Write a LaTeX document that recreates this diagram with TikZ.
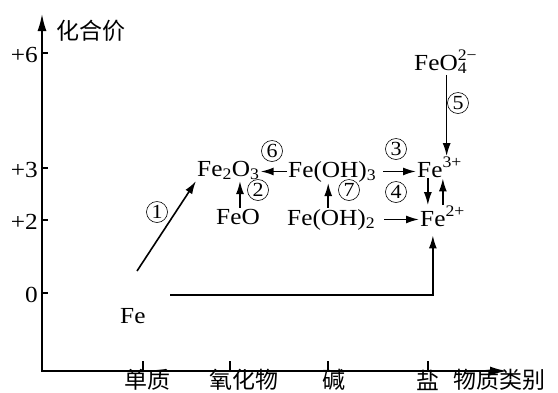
\documentclass[tikz,border=0pt]{standalone}
\usepackage{fontspec}
\setmainfont{Liberation Serif}[FakeStretch=1.1]
\newfontfamily\cjk{Noto Sans CJK SC}
\usetikzlibrary{arrows.meta}

\begin{document}
\begin{tikzpicture}[x=1pt,y=-1pt,>={Latex[length=13pt,width=8pt]},
  every node/.style={font=\fontsize{23}{26}\selectfont,inner sep=1pt},
  axis/.style={line width=1.6pt},
  link/.style={->,line width=1.6pt},
  circnum/.style={circle,draw,line width=0.6pt,minimum size=21pt,inner sep=0pt,font=\fontsize{20}{20}\selectfont},
  species/.style={anchor=base west,inner sep=1pt},
  cjklabel/.style={font=\fontsize{23}{24}\selectfont\cjk}]
\useasboundingbox (0,0) rectangle (558,392);

% Axes
\draw[axis,-{Latex[length=17pt,width=9pt]}] (42,371) -- (42,14);
\draw[axis,-{Latex[length=17pt,width=9pt]}] (41,371) -- (507,371);
\node[cjklabel,anchor=west] (yname) at (55,31) {化合价};
\node[cjklabel,anchor=west] (xname) at (452,380) {物质类别};

% Valence ticks
\foreach \y/\t [count=\i] in {53/+6,168/+3,220/+2,293/0}{
  \draw[axis] (42,\y) -- (48,\y);
  \node[anchor=east] (yl\i) at (39,\y+2) {\t};
}

% Class ticks
\foreach \x/\c/\t [count=\i] in {143/147/单质,230/244/氧化物,328/334/碱,428/428/盐}{
  \draw[axis] (\x,371) -- (\x,361);
  \node[cjklabel] (xl\i) at (\c,380) {\t};
}

% Species
\node[species] (fe) at (119,323) {Fe};
\node[species] (fe2o3) at (196,176) {Fe\textsubscript{2}O\textsubscript{3}};
\node[species] (feoh3) at (287,177) {Fe(OH)\textsubscript{3}};
\node[species] (fe3) at (416,177) {Fe\rlap{\textsuperscript{3+}}};
\node[species] (feo) at (215,224) {FeO};
\node[species] (feoh2) at (286,225) {Fe(OH)\textsubscript{2}};
\node[species] (fe2) at (419,226) {Fe\rlap{\textsuperscript{2+}}};
\node[species] (feo4) at (413,70) {FeO\rlap{\textsuperscript{2−}}\textsubscript{4}};

% Conversions
\coordinate (s1) at (137,271);
\coordinate (s0) at (170,295);
\draw[link] (s1) -- (fe2o3.south west);
\draw[link] ([xshift=2pt]feo.north) -- ([xshift=2pt]feo.north |- fe2o3.south);
\draw[link,shorten <=6pt] (feoh3.east) -- (feoh3.east -| fe3.west);
\draw[link] ([xshift=-2pt]fe3.south) -- ([xshift=-2pt]fe3.south |- fe2.north);
\draw[link] ([xshift=10pt]fe2.north) -- ([xshift=10pt]fe2.north |- fe3.south);
\draw[link] ([xshift=6pt]feo4.south) -- ([xshift=6pt]feo4.south |- fe3.north);
\draw[link] (feoh3.west) -- (feoh3.west -| fe2o3.east);
\draw[link] ([xshift=-3pt]feoh2.north) -- ([xshift=-3pt]feoh2.north |- feoh3.south);
\draw[link,shorten <=8pt] (feoh2.east) -- (feoh2.east -| fe2.west);
\draw[link,shorten >=8pt] (s0) -| (fe2.south);

% Step numbers
\node[circnum] (c1) at (157,212) {1};
\node[circnum] (c2) at (258,190) {2};
\node[circnum] (c3) at (396,149) {3};
\node[circnum] (c4) at (396,192) {4};
\node[circnum] (c5) at (458,103) {5};
\node[circnum] (c6) at (272,151) {6};
\node[circnum] (c7) at (349,190) {7};
\end{tikzpicture}
\end{document}
